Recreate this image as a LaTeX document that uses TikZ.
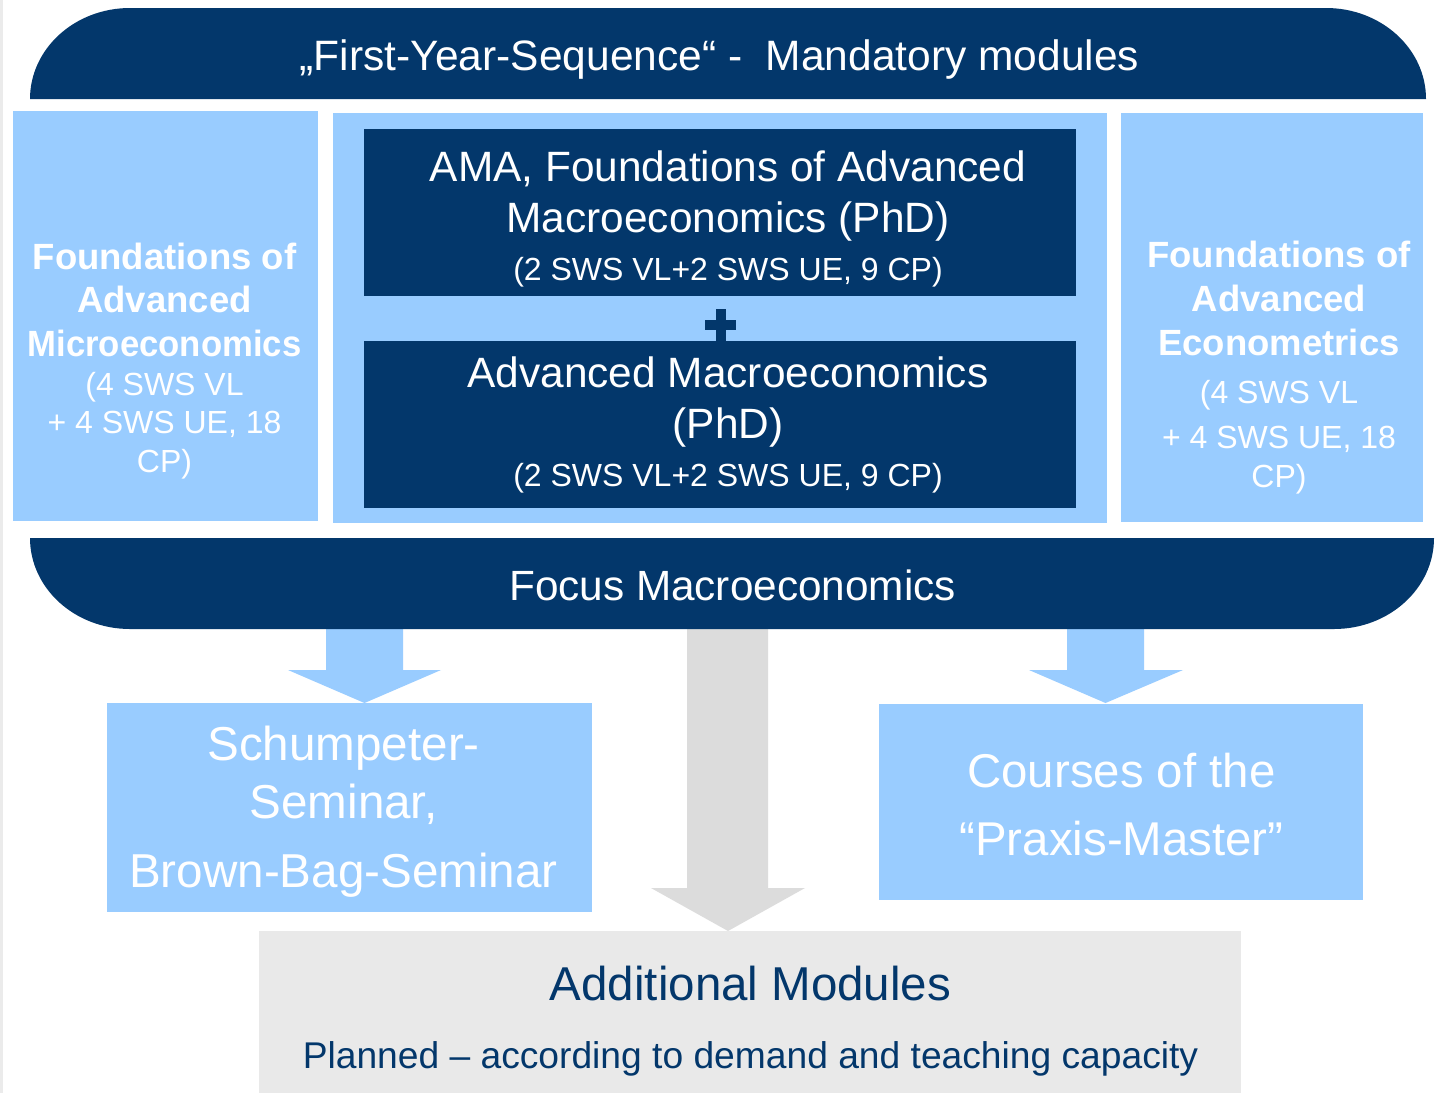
\documentclass[tikz,border=0pt]{standalone}
\usepackage{fontspec}
\usepackage{graphicx}
\setmainfont{Liberation Sans}
\definecolor{dblue}{HTML}{03376B}
\definecolor{lblue}{HTML}{99CCFF}
\definecolor{agray}{HTML}{DCDCDC}
\definecolor{bgray}{HTML}{E9E9E9}
\definecolor{edgegray}{HTML}{EBEBEB}
\newcommand\fsz[2]{\fontsize{#1}{#2}\selectfont}
\tikzset{
  lbox/.style={fill=lblue, inner sep=0pt, anchor=north west},
  dbox/.style={fill=dblue, inner sep=0pt, anchor=north west},
  gbox/.style={fill=bgray, inner sep=0pt, anchor=north west},
  wtxt/.style={text=white, align=center, anchor=base, inner sep=0pt},
  btxt/.style={text=dblue, align=center, anchor=base, inner sep=0pt},
  larrow/.style={fill=lblue},
  garrow/.style={fill=agray},
}
\begin{document}
\begin{tikzpicture}[x=1pt,y=-1pt]
\useasboundingbox (0,0) rectangle (1437,1093);
\fill[white] (0,0) rectangle (1437,1093);
\fill[edgegray] (0,0) rectangle (3,1093);

% block arrows
\fill[larrow] (326,625) -- (326,670) -- (288,670) -- (364.5,703) -- (441,670) -- (403,670) -- (403,625) -- cycle;
\fill[larrow] (1067,625) -- (1067,670) -- (1029,670) -- (1105.5,703) -- (1183,670) -- (1144,670) -- (1144,625) -- cycle;
\fill[garrow] (687,625) -- (687,888) -- (651,888) -- (728,931) -- (805,888) -- (768,888) -- (768,625) -- cycle;

% top banner
\fill[dblue] (30,99) arc[start angle=180,end angle=270,x radius=100,y radius=91]
  -- (1326,8) arc[start angle=270,end angle=360,x radius=100,y radius=91] -- cycle;
\node[wtxt, font={\fsz{42.5}{50}}] (title) at (719.5,70) {„First-Year-Sequence“ -\ \ Mandatory modules};

% boxes
\node[lbox, minimum width=305pt, minimum height=410pt] (micro) at (13,111) {};
\node[lbox, minimum width=774pt, minimum height=410pt] (mid) at (333,113) {};
\node[lbox, minimum width=302pt, minimum height=409pt] (econ) at (1121,113) {};
\node[dbox, minimum width=712pt, minimum height=167pt] (ama) at (364,129) {};
\node[dbox, minimum width=712pt, minimum height=167pt] (adv) at (364,341) {};
\fill[dblue] (705,319.5) rectangle (736,329.5);
\fill[dblue] (715.5,309) rectangle (725.5,341);

\node[wtxt, font={\fsz{36.5}{43.5}\bfseries}] (microtxt) at (164.5,472)
  {Foundations of\\Advanced\\\scalebox{0.95}[1]{Microeconomics}\\[-4.5pt]
   {\mdseries\fsz{32}{38}(4 SWS VL}\\[-5.5pt]
   {\mdseries\fsz{32}{38}+ 4 SWS UE, 18}\\[-4.5pt]
   {\mdseries\fsz{32}{38}CP)}};
\node[wtxt, font={\fsz{36.5}{45}\bfseries}] (econtxt) at (1279,487)
  {Foundations of\\[-1pt]Advanced\\[-1pt]Econometrics\\[3pt]
   {\mdseries\fsz{32}{38}(4 SWS VL}\\
   {\mdseries\fsz{32}{38}+ 4 SWS UE, 18}\\[-6pt]
   {\mdseries\fsz{32}{38}CP)}};
\node[wtxt, font={\fsz{42.4}{51}}] (amatxt) at (728,280)
  {AMA, Foundations of Advanced\\Macroeconomics (PhD)\\[-3pt]{\fsz{32}{38}(2 SWS VL+2 SWS UE, 9 CP)}};
\node[wtxt, font={\fsz{42.4}{51}}] (advtxt) at (728,486)
  {Advanced Macroeconomics\\(PhD)\\[-3pt]{\fsz{32}{38}(2 SWS VL+2 SWS UE, 9 CP)}};

% focus banner
\fill[dblue] (30,538) -- (1434,538) arc[start angle=0,end angle=90,x radius=100,y radius=91]
  -- (130,629) arc[start angle=90,end angle=180,x radius=100,y radius=91] -- cycle;
\node[wtxt, font={\fsz{42.3}{50}}] (focus) at (732.5,600) {Focus Macroeconomics};

% lower boxes
\node[lbox, minimum width=485pt, minimum height=209pt] (schum) at (107,703) {};
\node[lbox, minimum width=484pt, minimum height=196pt] (praxis) at (879,704) {};
\node[gbox, minimum width=982pt, minimum height=162pt] (addl) at (259,931) {};

\node[wtxt, font={\fsz{47.6}{58}}] (schumtxt) at (343.5,887) {Schumpeter-\\Seminar,\\[11pt]Brown-Bag-Seminar};
\node[wtxt, font={\fsz{47.4}{68}}] (praxistxt) at (1121.5,855) {Courses of the\\“Praxis-Master”};
\node[btxt, font={\fsz{47.5}{68}}] (addltxt) at (750.5,1068) {Additional Modules\\{\fsz{37.2}{44}Planned – according to demand and teaching capacity}};
\end{tikzpicture}
\end{document}
